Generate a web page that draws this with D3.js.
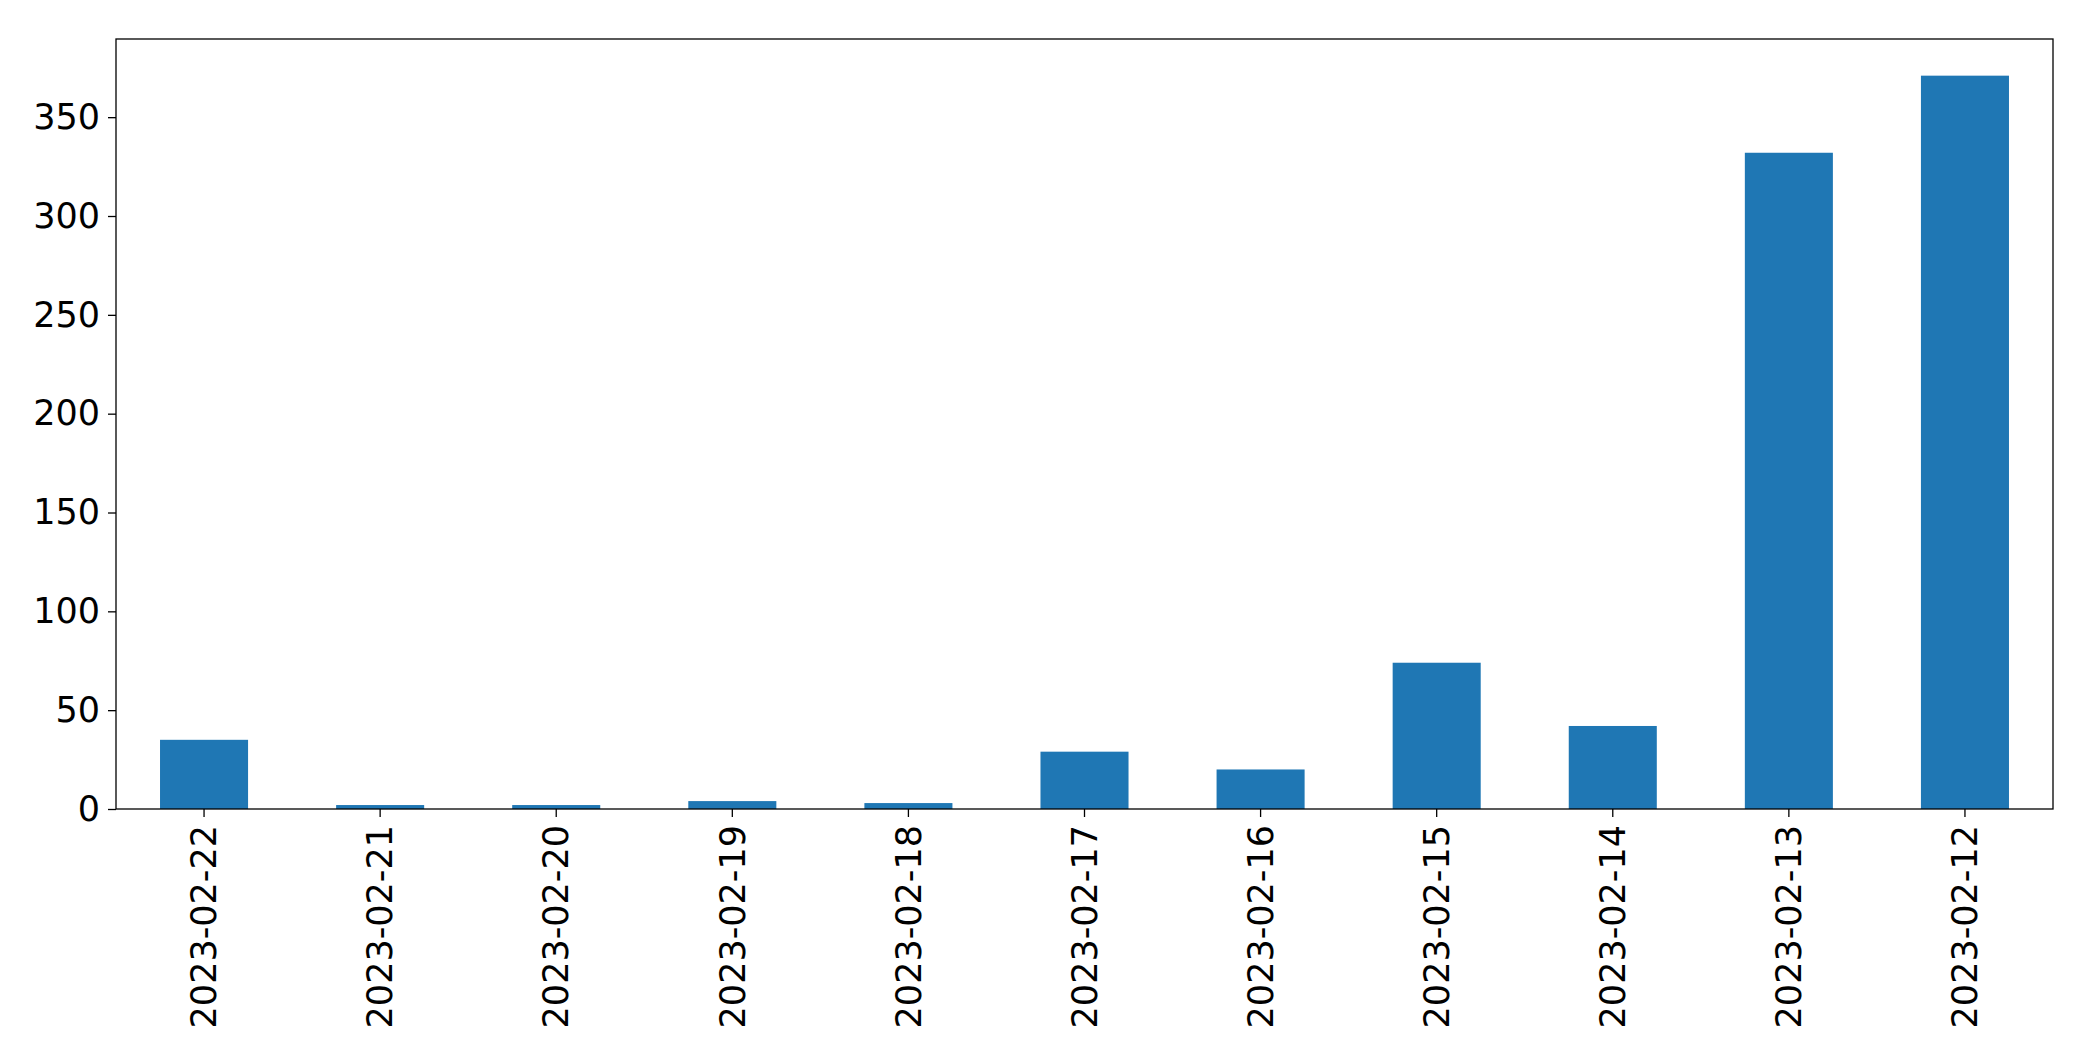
<!DOCTYPE html>
<html>
<head>
<meta charset="utf-8">
<script src="https://cdn.jsdelivr.net/npm/d3@7"></script>
<style>
  body { margin: 0; background: #fff; }
  text { font-family: "DejaVu Sans", sans-serif; }
</style>
</head>
<body>
<svg id="chart" width="2093" height="1061"></svg>
<script>
const dates = ["2023-02-22", "2023-02-21", "2023-02-20", "2023-02-19", "2023-02-18", "2023-02-17",
  "2023-02-16", "2023-02-15", "2023-02-14", "2023-02-13", "2023-02-12"]
const counts = [35, 2, 2, 4, 3, 29, 20, 74, 42, 332, 371]
const yTicks = [0, 50, 100, 150, 200, 250, 300, 350]

const svg = d3.select("#chart")
const m = { left: 116, right: 2053, top: 39, bottom: 809 }

const x = d3.scaleBand().domain(dates).range([m.left, m.right]).paddingInner(0.5).paddingOuter(0.25)
const y = d3.scaleLinear().domain([0, d3.max(counts) * 1.05]).range([m.bottom, m.top])

svg.selectAll("rect.bar")
  .data(dates)
  .join("rect")
  .attr("class", "bar")
  .attr("x", (d) => x(d))
  .attr("width", x.bandwidth())
  .attr("y", (d, i) => y(counts[i]))
  .attr("height", (d, i) => y(0) - y(counts[i]))
  .attr("fill", "#1f77b4")

const yAxis = svg.append("g")
  .attr("transform", `translate(${m.left},0)`)
  .call(d3.axisLeft(y).tickValues(yTicks).tickSize(8).tickPadding(8))
yAxis.selectAll("text").style("font-size", "35px").attr("fill", "#000")

const xAxis = svg.append("g")
  .attr("transform", `translate(0,${m.bottom})`)
  .call(d3.axisBottom(x).tickSize(8).tickPadding(8))
xAxis.selectAll("text")
  .style("font-size", "35px")
  .attr("fill", "#000")
  .attr("text-anchor", "end")
  .attr("dy", "0.35em")
  .attr("transform", "rotate(-90)")
  .attr("x", -16)
  .attr("y", 0)

svg.selectAll(".domain").remove()
svg.selectAll(".tick line").attr("stroke", "#000").attr("stroke-width", 1.3)

svg.append("rect")
  .attr("x", m.left).attr("y", m.top)
  .attr("width", m.right - m.left).attr("height", m.bottom - m.top)
  .attr("fill", "none").attr("stroke", "#000").attr("stroke-width", 1.3)
</script>
</body>
</html>
